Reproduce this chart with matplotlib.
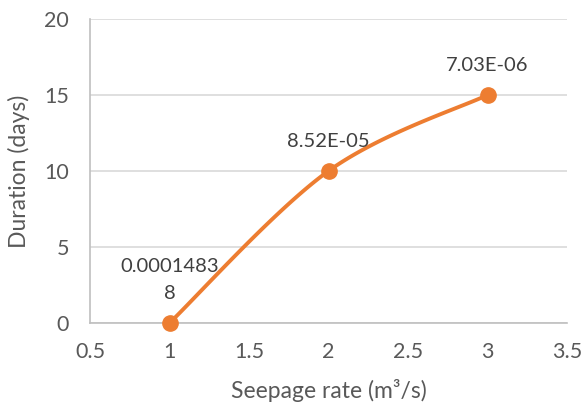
import matplotlib
matplotlib.use("Agg")
import matplotlib.pyplot as plt
import numpy as np

x_vals = [1, 2, 3]
y_vals = [0, 10, 15]
labels = ["0.0001483\n8", "8.52E-05", "7.03E-06"]
x_ticks = [0.5, 1, 1.5, 2, 2.5, 3, 3.5]
y_ticks = [0, 5, 10, 15, 20]
x_title = "Seepage rate (m³/s)"
y_title = "Duration (days)"

plt.rcParams['font.family'] = ['Lato', 'DejaVu Sans']
ORANGE = "#ED7D31"
TXT = "#595959"

fig = plt.figure(figsize=(5.86, 4.07), dpi=100)
ax = fig.add_axes([90/586, 1-323/407, (567-90)/586, (323-19)/407])
ax.set_xlim(0.5, 3.5)
ax.set_ylim(0, 20)
ax.set_xticks(x_ticks)
ax.set_xticklabels([f"{t:g}" for t in x_ticks])
ax.set_yticks(y_ticks)
for s in ["top", "right"]:
    ax.spines[s].set_visible(False)
ax.spines["left"].set_color("#BFBFBF")
ax.spines["bottom"].set_color("#BFBFBF")
ax.spines["left"].set_linewidth(1.2)
ax.spines["bottom"].set_linewidth(1.2)
ax.tick_params(length=0, labelsize=15.5, labelcolor=TXT)
ax.tick_params(axis="y", pad=15)
ax.tick_params(axis="x", pad=14)
ax.grid(axis="y", color="#D9D9D9", linewidth=1.2)
ax.set_axisbelow(True)

# Excel-style smoothed line computed in display space
fig.canvas.draw()
pts = ax.transData.transform(np.column_stack([x_vals, y_vals]))
n = len(pts)
curve = []
t = np.linspace(0, 1, 60)
for i in range(n - 1):
    p0 = pts[max(i - 1, 0)]
    p1 = pts[i]
    p2 = pts[i + 1]
    p3 = pts[min(i + 2, n - 1)]
    c1 = p1 + (p2 - p0) / 6
    c2 = p2 - (p3 - p1) / 6
    seg = ((1 - t)[:, None] ** 3) * p1 + 3 * ((1 - t) ** 2 * t)[:, None] * c1 \
        + 3 * ((1 - t) * t ** 2)[:, None] * c2 + (t[:, None] ** 3) * p2
    curve.append(seg)
curve = np.vstack(curve)
curve_data = ax.transData.inverted().transform(curve)
ax.plot(curve_data[:, 0], curve_data[:, 1], color=ORANGE, linewidth=2.8,
        solid_capstyle="round", clip_on=False, zorder=3)
ax.plot(x_vals, y_vals, "o", color=ORANGE, markersize=11, clip_on=False, zorder=4)

for xv, yv, lab in zip(x_vals, y_vals, labels):
    ax.annotate(lab, (xv, yv), xytext=(0, 15), textcoords="offset points",
                ha="center", va="bottom", fontsize=14.5, color="#404040",
                linespacing=1.75)

ax.set_xlabel(x_title, fontsize=16.5, color=TXT, labelpad=12)
ax.set_ylabel(y_title, fontsize=16.5, color=TXT, labelpad=10)

fig.savefig("out.png", dpi=100)
